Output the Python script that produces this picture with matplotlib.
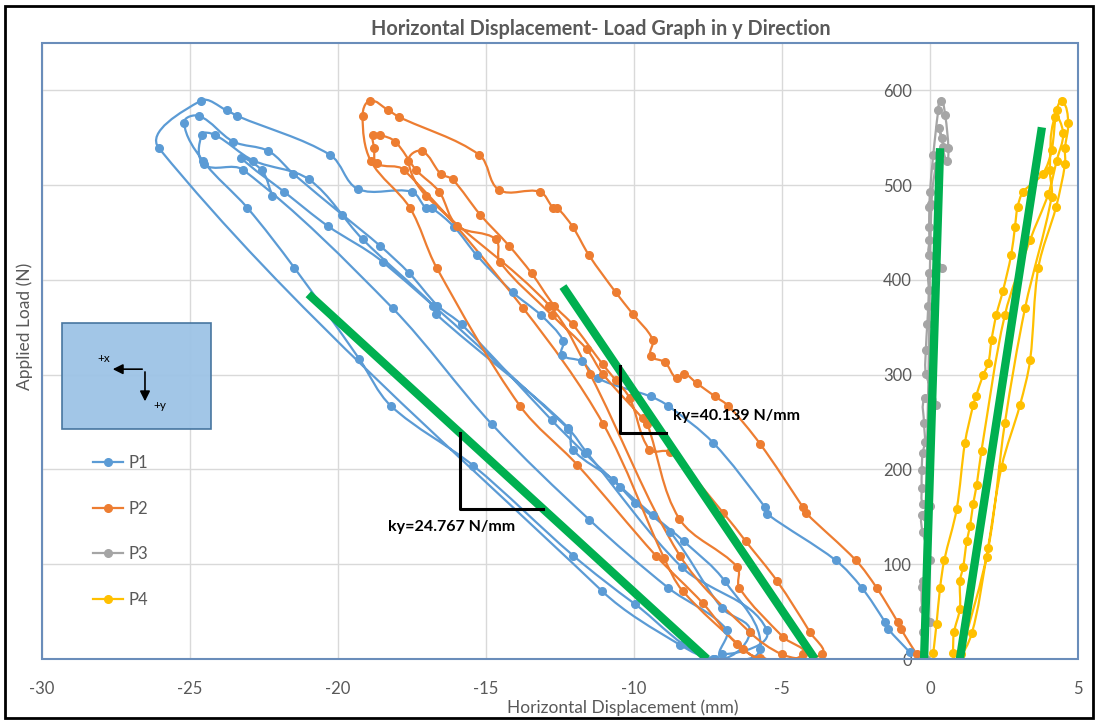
import numpy as np
import matplotlib
matplotlib.use("Agg")
import matplotlib.pyplot as plt
from matplotlib.path import Path
from matplotlib.patches import PathPatch, Rectangle
from matplotlib.lines import Line2D

plt.rcParams['font.family'] = ['Lato', 'DejaVu Sans']
plt.rcParams['axes.unicode_minus'] = False

# (displacement mm, load N)
p1 = [(-0.68, 7), (-1.42, 32), (-1.52, 39), (-2.30, 75), (-3.18, 104), (-5.50, 153), (-5.57, 160),
      (-7.32, 228), (-8.84, 267), (-9.44, 277), (-11.21, 296), (-11.77, 314), (-12.44, 321),
      (-12.39, 336), (-13.15, 363), (-14.10, 387), (-15.31, 426), (-16.08, 456), (-16.84, 476),
      (-17.03, 476), (-17.51, 493), (-19.33, 496), (-20.27, 532), (-23.40, 573), (-23.76, 579),
      (-24.64, 589), (-26.05, 539),
      (-11.09, 72), (-8.45, 15), (-7.26, 0),
      (-5.74, 11), (-6.93, 82), (-8.31, 124), (-9.37, 152), (-10.47, 182), (-11.66, 217),
      (-12.78, 252), (-15.82, 353), (-16.64, 373), (-17.59, 407), (-18.58, 436), (-19.86, 469),
      (-21.51, 512), (-22.35, 536), (-23.54, 546), (-24.69, 573),
      (-25.20, 566), (-24.57, 526), (-23.06, 476), (-21.48, 413), (-19.29, 317), (-18.21, 267),
      (-15.43, 204), (-12.05, 109), (-9.97, 58), (-7.32, 0),
      (-6.08, 28), (-7.04, 54), (-8.78, 134), (-9.97, 165), (-10.70, 189), (-12.07, 221),
      (-12.22, 244), (-16.69, 364), (-16.78, 373), (-19.17, 443), (-20.98, 506), (-22.86, 526),
      (-24.16, 553), (-24.60, 553),
      (-24.53, 522), (-23.20, 516), (-18.15, 370), (-14.81, 248), (-11.51, 147), (-8.84, 75),
      (-6.87, 31), (-7.04, 5),
      (-5.52, 31), (-8.39, 97), (-11.60, 218), (-12.22, 243), (-18.49, 419), (-20.35, 457),
      (-21.82, 493), (-23.28, 529), (-22.58, 516), (-22.22, 489)]

p2 = [(-0.45, 5), (-0.99, 32), (-1.09, 39), (-1.80, 75), (-2.50, 104), (-4.19, 154), (-4.29, 160),
      (-5.74, 227), (-6.81, 267), (-7.26, 277), (-7.88, 291), (-8.31, 301), (-8.56, 296),
      (-8.95, 313), (-9.44, 320), (-9.37, 337), (-10.04, 364), (-10.62, 387), (-11.52, 426),
      (-12.07, 456), (-12.59, 476), (-12.73, 476), (-13.18, 493), (-14.56, 495), (-15.23, 532),
      (-17.94, 572), (-18.30, 579), (-18.92, 589), (-19.17, 573),
      (-18.90, 526), (-17.57, 476), (-16.67, 413), (-13.85, 267), (-11.92, 205), (-9.26, 109),
      (-7.68, 59), (-6.53, 16), (-5.74, 1),
      (-4.28, 5), (-4.96, 23), (-6.44, 75), (-6.51, 97), (-8.47, 148), (-9.55, 248), (-9.71, 254),
      (-11.06, 301), (-11.60, 327), (-12.78, 363), (-14.53, 419), (-14.67, 443), (-15.97, 457),
      (-16.58, 493), (-17.36, 516), (-18.07, 546), (-18.58, 553),
      (-18.81, 553), (-18.78, 539), (-18.69, 523), (-17.77, 516), (-13.74, 370), (-11.04, 248),
      (-8.99, 107), (-8.36, 72), (-6.31, 11), (-5.63, -2),
      (-3.66, 5), (-4.05, 28), (-5.16, 82), (-6.22, 124), (-6.98, 154), (-8.78, 218), (-9.48, 221),
      (-10.14, 275), (-10.61, 294), (-11.06, 311), (-12.07, 353), (-12.70, 373), (-13.46, 407),
      (-14.22, 436), (-15.20, 469), (-16.13, 506), (-16.53, 512), (-17.17, 536), (-17.62, 526),
      (-17.03, 489), (-12.86, 373), (-11.49, 301), (-8.45, 109), (-6.08, 28), (-5.01, 5),
      (-4.00, -2)]

p3 = [(-0.14, 0), (-0.25, 29), (0.0, 39), (-0.25, 53), (-0.28, 76), (-0.25, 82), (0.0, 104),
      (-0.25, 134), (-0.28, 152), (0.0, 161), (-0.25, 164), (-0.28, 180), (-0.28, 199),
      (-0.25, 217), (-0.17, 229), (-0.20, 249), (-0.17, 275), (0.20, 268), (-0.14, 301),
      (-0.14, 326), (-0.09, 354), (-0.06, 372), (-0.04, 389), (-0.02, 407), (0.39, 413),
      (-0.03, 426), (-0.02, 442), (-0.03, 456), (-0.02, 477), (0.0, 493), (0.11, 532),
      (0.28, 579), (0.36, 589), (0.51, 574), (0.62, 539), (0.56, 526), (0.40, 550), (0.30, 560),
      (0.45, 540), (0.20, 520), (0.05, 480), (-0.05, 300), (-0.15, 150), (-0.23, 0)]

p4 = [(0.11, 6), (0.22, 37), (0.34, 75), (0.48, 104), (0.90, 158), (1.18, 228), (1.46, 268),
      (1.55, 277), (1.80, 300), (1.97, 312), (2.08, 337), (2.24, 363), (2.46, 388), (2.74, 426),
      (2.87, 456), (2.96, 477), (3.15, 493), (3.81, 512), (4.11, 537), (4.28, 579), (4.47, 589),
      (4.67, 566), (4.56, 539), (4.56, 522), (4.26, 477), (3.66, 413), (3.38, 315), (3.04, 268),
      (2.42, 203), (1.91, 108), (1.41, 27), (0.88, -3),
      (0.79, 6), (0.81, 28), (1.01, 53), (1.01, 82), (1.12, 97), (1.24, 124), (1.35, 140),
      (1.46, 164), (1.58, 184), (1.74, 220), (2.53, 363), (3.38, 442), (4.00, 491), (4.28, 526),
      (4.50, 555),
      (4.22, 572), (4.05, 516), (4.11, 488), (3.21, 370), (2.53, 249), (1.97, 117), (1.05, 5)]

series = [("P1", p1, "#5B9BD5"), ("P2", p2, "#ED7D31"), ("P3", p3, "#A5A5A5"), ("P4", p4, "#FFC000")]

# green stiffness lines
fit_lines = [[(-21.0, 385), (-7.53, 0)],
             [(-12.40, 393), (-3.89, 0)],
             [(0.34, 539), (-0.20, 0)],
             [(3.78, 561), (1.01, 0)]]

# slope triangles and their labels
tri1 = [(-15.88, 238), (-15.88, 158), (-13.07, 158)]
tri2 = [(-10.47, 309), (-10.47, 239), (-8.92, 239)]
ky_labels = [(-18.31, 139, "ky=24.767 N/mm"), (-8.68, 256, "ky=40.139 N/mm")]

x_ticks = [-30, -25, -20, -15, -10, -5, 0, 5]
y_ticks = [0, 100, 200, 300, 400, 500, 600]


def smooth_path(pts, sx=29.6, sy=0.948):
    # Excel-like smoothed line: cubic Bezier, tangents limited by segment length
    pts = np.asarray(pts, dtype=float)
    scale = np.array([sx, sy])
    q = pts * scale
    n = len(q)
    tang = []
    for i in range(n):
        a = q[i - 1] if i > 0 else q[i]
        b = q[i + 1] if i < n - 1 else q[i]
        d = b - a
        nd = np.hypot(*d)
        tang.append(d / nd if nd > 0 else np.zeros(2))
    verts = [pts[0]]
    codes = [Path.MOVETO]
    for i in range(n - 1):
        seg = np.hypot(*(q[i + 1] - q[i])) / 3
        c1 = (q[i] + tang[i] * seg) / scale
        c2 = (q[i + 1] - tang[i + 1] * seg) / scale
        verts += [c1, c2, pts[i + 1]]
        codes += [Path.CURVE4] * 3
    return Path(verts, codes)


fig = plt.figure(figsize=(10.96, 7.2), dpi=100)
ax = fig.add_axes([42 / 1096, 61 / 720, 1036 / 1096, 616 / 720])

grey = "#595959"
for name, pts, col in series:
    ax.add_patch(PathPatch(smooth_path(pts), fill=False, edgecolor=col, lw=1.6, zorder=3))
    xs, ys = zip(*pts)
    ax.plot(xs, ys, ls="none", marker="o", ms=5.5, color=col, zorder=4)

for ln in fit_lines:
    xs, ys = zip(*ln)
    ax.plot(xs, ys, color="#00B050", lw=6, solid_capstyle="butt", zorder=6)

for tri in (tri1, tri2):
    xs, ys = zip(*tri)
    ax.plot(xs, ys, color="black", lw=2.2, zorder=7)
for x, y, s in ky_labels:
    ax.text(x, y, s, fontsize=11.5, fontweight="bold", color="black", va="center", ha="left", zorder=8)

ax.set_xlim(-30, 5)
ax.set_ylim(0, 650)
ax.set_xticks(x_ticks)
ax.set_yticks(y_ticks)
ax.grid(True, color="#D9D9D9", lw=1, zorder=0)
ax.set_axisbelow(True)

for s in ax.spines.values():
    s.set_visible(False)
ax.spines["left"].set_position(("data", 0))
ax.add_patch(Rectangle((0, 0), 1, 1, transform=ax.transAxes, fill=False,
                       edgecolor="#6A8DBA", lw=1.5, zorder=9, clip_on=False))
ax.tick_params(axis="both", length=0, labelsize=12, labelcolor=grey)
ax.tick_params(axis="y", pad=13)
ax.tick_params(axis="x", pad=16)

fig.text(623 / 1096, 1 - 708 / 720, "Horizontal Displacement (mm)", fontsize=12.5, color=grey,
         ha="center", va="center")
fig.text(25 / 1096, 1 - 326 / 720, "Applied Load (N)", rotation=90, fontsize=12.5,
         color=grey, ha="center", va="center")
fig.text(601 / 1096, 1 - 29 / 720, "Horizontal Displacement- Load Graph in y Direction",
         fontsize=14.3, fontweight="bold", color=grey, ha="center", va="center")

# coordinate sketch box
ax.add_patch(Rectangle((0.0193, 0.373), 0.1438, 0.172, transform=ax.transAxes,
                       facecolor="#9DC3E6", edgecolor="#41719C", lw=1.2, alpha=0.95, zorder=5))
arrow = dict(arrowstyle="-|>", color="black", lw=1.2, mutation_scale=15)
ax.annotate("", xy=(0.0656, 0.4705), xytext=(0.0994, 0.4705), xycoords="axes fraction",
            arrowprops=arrow, zorder=6)
ax.annotate("", xy=(0.0994, 0.4138), xytext=(0.0994, 0.4705), xycoords="axes fraction",
            arrowprops=arrow, zorder=6)
ax.text(0.0598, 0.488, "+x", transform=ax.transAxes, fontsize=8.5, ha="center", va="center", zorder=7)
ax.text(0.1139, 0.412, "+y", transform=ax.transAxes, fontsize=8.5, ha="center", va="center", zorder=7)

handles = [Line2D([], [], color=c, lw=1.6, marker="o", ms=5.5) for _, _, c in series]
leg = ax.legend(handles, [n for n, _, _ in series], loc="upper left",
                bbox_to_anchor=((93 - 42) / 1036, (659 - 455) / 616), frameon=False,
                fontsize=12, labelspacing=1.78, handlelength=1.8, handletextpad=0.3,
                borderpad=0, borderaxespad=0)
for t in leg.get_texts():
    t.set_color(grey)

fig.patches.append(Rectangle((5 / 1096, 2 / 720), 1088 / 1096, 712 / 720, transform=fig.transFigure,
                             fill=False, edgecolor="black", lw=2))

fig.savefig("out.png", dpi=100)
